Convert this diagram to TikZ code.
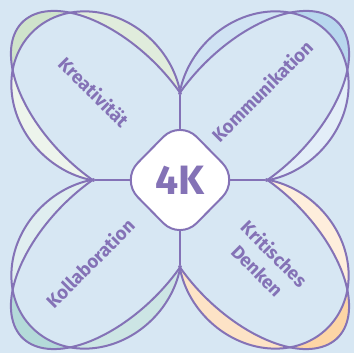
\documentclass[tikz,border=0pt]{standalone}
\usepackage{fontspec}
\setmainfont{Fira Sans}
\usetikzlibrary{shapes.geometric}

\definecolor{bgblue}{HTML}{D7E7F3}
\definecolor{lila}{HTML}{8472B6}
\definecolor{gruenA}{HTML}{E0ECDC}
\definecolor{gruenB}{HTML}{EDF4EC}
\definecolor{gruenC}{HTML}{CFE3CB}
\definecolor{blauA}{HTML}{D0E3F3}
\definecolor{blauB}{HTML}{E3EEF8}
\definecolor{blauC}{HTML}{B8D7EE}
\definecolor{tuerkisA}{HTML}{CCE5E4}
\definecolor{tuerkisB}{HTML}{E0EEF0}
\definecolor{tuerkisC}{HTML}{B4DAD9}
\definecolor{orangeA}{HTML}{FDE3C6}
\definecolor{orangeB}{HTML}{FEEEDC}
\definecolor{orangeC}{HTML}{FDD5A5}

\begin{document}
\begin{tikzpicture}[x=1pt,y=1pt,
		petal/.style={draw=lila,line width=2pt},
		arm/.style={draw=lila,line width=2pt},
		kern/.style={diamond,aspect=1,draw=lila,line width=2pt,fill=white,minimum width=119pt,minimum height=121pt,inner sep=0pt,rounded corners=24pt,text=lila,font=\bfseries\fontsize{41}{41}\selectfont},
		label/.style={text=lila,font=\bfseries\fontsize{18.5}{24}\selectfont}]
	\fill[bgblue] (0,0) rectangle (354,353);
	\useasboundingbox (0,0) rectangle (354,353);
	\coordinate (c) at (180,173);

	% petals: two overlapping ellipse arcs each
	\foreach \ang/\cpos/\cneg/\cend in {135/gruenB/gruenA/gruenC,45/blauA/blauB/blauC,-45/orangeB/orangeA/orangeC,225/tuerkisA/tuerkisB/tuerkisC}{
		\begin{scope}[shift={(c)},rotate=\ang]
			\begin{scope}
				\clip (60,0) rectangle (196.1,100);
				\fill[\cpos,even odd rule] (118,0) ellipse[x radius=91,y radius=79] (100,0) ellipse[x radius=123,y radius=65];
			\end{scope}
			\begin{scope}
				\clip (60,-100) rectangle (196.1,0);
				\fill[\cneg,even odd rule] (118,0) ellipse[x radius=91,y radius=79] (100,0) ellipse[x radius=123,y radius=65];
			\end{scope}
			\begin{scope}
				\clip (196.1,-100) rectangle (240,100);
				\fill[\cend,even odd rule] (118,0) ellipse[x radius=91,y radius=79] (100,0) ellipse[x radius=123,y radius=65];
			\end{scope}
			\draw[petal] (118,0) ++(-129.6:91 and 79) arc[start angle=-129.6,end angle=129.6,x radius=91,y radius=79];
			\draw[petal] (100,0) ++(-109:123 and 65) arc[start angle=-109,end angle=109,x radius=123,y radius=65];
		\end{scope}
	}

	\coordinate (top)    at (180,258);
	\coordinate (bottom) at (180,88);
	\coordinate (left)   at (95,173);
	\coordinate (right)  at (265,173);

	\draw[arm] (c) -- (top);
	\draw[arm] (c) -- (bottom);
	\draw[arm] (c) -- (left);
	\draw[arm] (c) -- (right);

	\node[kern] (k4) at (c) {4K};

	\node[label,rotate=-45]             (kreat) at (94,261) {Kreativität};
	\node[label,rotate=45]              (komm)  at (262,262) {Kommunikation};
	\node[label,rotate=45]              (koll)  at (90,90)  {Kollaboration};
	\node[label,rotate=-45,align=center] (krit) at (266,91) {Kritisches\\Denken};
\end{tikzpicture}
\end{document}
